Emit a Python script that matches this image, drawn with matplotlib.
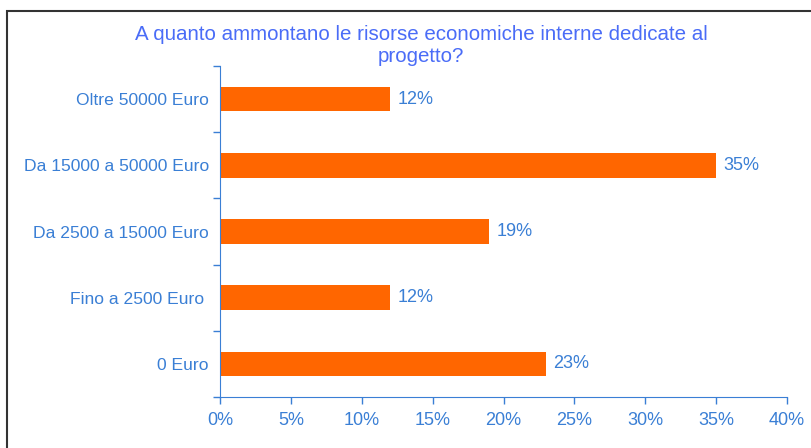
import matplotlib.pyplot as plt
from matplotlib.patches import Rectangle
from matplotlib.ticker import FixedLocator, PercentFormatter

categories = ["0 Euro", "Fino a 2500 Euro ", "Da 2500 a 15000 Euro",
              "Da 15000 a 50000 Euro", "Oltre 50000 Euro"]
values = [23, 12, 19, 35, 12]
xticks = [0, 5, 10, 15, 20, 25, 30, 35, 40]

blue = "#3a7fd5"
orange = "#ff6600"
plt.rcParams["font.family"] = ["Liberation Sans", "DejaVu Sans"]

fig = plt.figure(figsize=(8.11, 4.48), dpi=100)
ax = fig.add_axes([220/811, 1 - 397/448, 567/811, 331/448])

pos = range(len(categories))
ax.barh(pos, values, height=0.37, color=orange)
for p, v in zip(pos, values):
    ax.text(v + 0.5, p, f"{v}%", va="center", ha="left", color=blue, fontsize=13)

ax.set_xlim(0, 40)
ax.set_ylim(-0.5, 4.5)
ax.set_xticks(xticks)
ax.xaxis.set_major_formatter(PercentFormatter(decimals=0))
ax.set_yticks(list(pos))
ax.set_yticklabels(categories)
ax.yaxis.set_minor_locator(FixedLocator([-0.5, 0.5, 1.5, 2.5, 3.5, 4.5]))
ax.tick_params(axis="y", which="major", length=0, pad=8, labelsize=12.6, labelcolor=blue)
ax.tick_params(axis="y", which="minor", length=5, color=blue, width=1)
ax.tick_params(axis="x", length=5, color=blue, width=1, labelsize=13, labelcolor=blue, pad=6)
for s in ["top", "right"]:
    ax.spines[s].set_visible(False)
for s in ["left", "bottom"]:
    ax.spines[s].set_color(blue)

fig.text(421/811, 1 - 45/448, "A quanto ammontano le risorse economiche interne dedicate al\nprogetto?",
         ha="center", va="center", color="#4a6cf7", fontsize=14.8, linespacing=1.2)

fig.patches.append(Rectangle((7/811, -0.2), 1.2, (448 - 11)/448 + 0.2,
                             transform=fig.transFigure, fill=False,
                             edgecolor="#333333", linewidth=1.5))

fig.savefig("out.png", dpi=100)
